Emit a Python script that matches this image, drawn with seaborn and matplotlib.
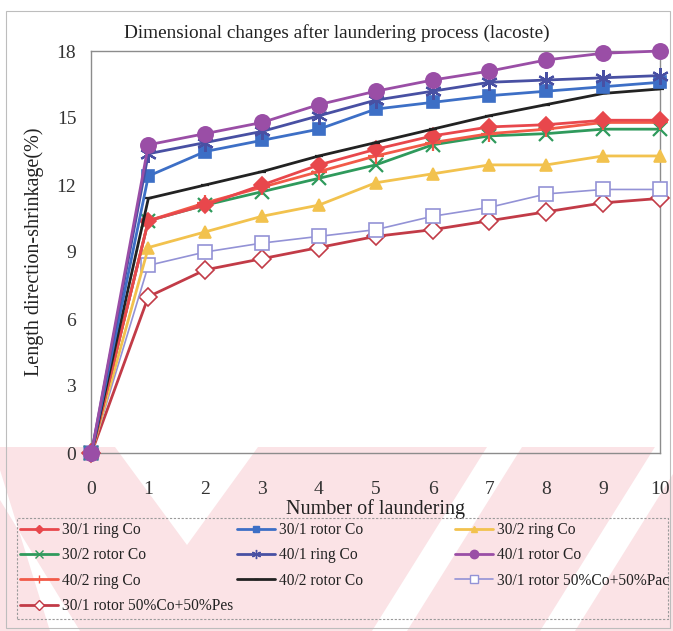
import numpy as np
import pandas as pd
import matplotlib
matplotlib.use("Agg")
import matplotlib.pyplot as plt
from matplotlib.patches import Rectangle, Polygon
from matplotlib.lines import Line2D
import seaborn as sns

# Number of laundering cycles
washes = [0, 1, 2, 3, 4, 5, 6, 7, 8, 9, 10]

# Length direction shrinkage (%) per yarn / fabric type
ring_30_1 = [0, 10.4, 11.1, 12.0, 12.9, 13.6, 14.2, 14.6, 14.7, 14.9, 14.9]
rotor_30_1 = [0, 12.4, 13.5, 14.0, 14.5, 15.4, 15.7, 16.0, 16.2, 16.4, 16.6]
ring_30_2 = [0, 9.2, 9.9, 10.6, 11.1, 12.1, 12.5, 12.9, 12.9, 13.3, 13.3]
rotor_30_2 = [0, 10.4, 11.1, 11.7, 12.3, 12.9, 13.8, 14.2, 14.3, 14.5, 14.5]
ring_40_1 = [0, 13.4, 13.9, 14.4, 15.1, 15.8, 16.2, 16.6, 16.7, 16.8, 16.9]
rotor_40_1 = [0, 13.8, 14.3, 14.8, 15.6, 16.2, 16.7, 17.1, 17.6, 17.9, 18.0]
ring_40_2 = [0, 10.4, 11.2, 11.9, 12.6, 13.3, 13.9, 14.3, 14.5, 14.8, 14.8]
rotor_40_2 = [0, 11.4, 12.0, 12.6, 13.3, 13.9, 14.5, 15.1, 15.6, 16.1, 16.3]
rotor_pac = [0, 8.4, 9.0, 9.4, 9.7, 10.0, 10.6, 11.0, 11.6, 11.8, 11.8]
rotor_pes = [0, 7.0, 8.2, 8.7, 9.2, 9.7, 10.0, 10.4, 10.8, 11.2, 11.4]

series_names = [
    "30/1 ring Co", "30/1 rotor Co", "30/2 ring Co",
    "30/2 rotor Co", "40/1 ring Co", "40/1 rotor Co",
    "40/2 ring Co", "40/2 rotor Co", "30/1 rotor 50%Co+50%Pac",
    "30/1 rotor 50%Co+50%Pes",
]
series_values = [ring_30_1, rotor_30_1, ring_30_2, rotor_30_2, ring_40_1,
                 rotor_40_1, ring_40_2, rotor_40_2, rotor_pac, rotor_pes]

y_ticks = [0, 3, 6, 9, 12, 15, 18]
x_ticks = washes

# drawing style per series: colour, marker, marker size, face, line width
styles = {
    "30/1 ring Co": dict(color="#E8474C", marker="D", ms=8, mfc=None, lw=2.0),
    "30/1 rotor Co": dict(color="#3D6FC6", marker="s", ms=9, mfc=None, lw=2.0),
    "30/2 ring Co": dict(color="#F2C24E", marker="^", ms=9, mfc=None, lw=2.0),
    "30/2 rotor Co": dict(color="#2F9A5C", marker="x", ms=10, mfc=None, lw=2.0),
    "40/1 ring Co": dict(color="#4850A3", marker=(6, 2, 0), ms=12, mfc=None, lw=2.0),
    "40/1 rotor Co": dict(color="#9A4EA6", marker="o", ms=11, mfc=None, lw=2.0),
    "40/2 ring Co": dict(color="#F25A48", marker="+", ms=11, mfc=None, lw=2.0),
    "40/2 rotor Co": dict(color="#222222", marker="_", ms=6, mfc=None, lw=2.0),
    "30/1 rotor 50%Co+50%Pac": dict(color="#9392D6", marker="s", ms=10, mfc="white", lw=1.2),
    "30/1 rotor 50%Co+50%Pes": dict(color="#C23B47", marker="D", ms=9, mfc="white", lw=2.0),
}

frames = [pd.DataFrame({"wash": washes, "shrink": vals, "series": name})
          for name, vals in zip(series_names, series_values)]
data = pd.concat(frames, ignore_index=True)

sns.set_theme(style="white")
plt.rcParams["font.family"] = ["Liberation Serif", "DejaVu Serif"]

fig = plt.figure(figsize=(6.73, 6.31), dpi=100)
W, H = 673, 631

def fx(px):
    return px / W

def fy(py):
    return 1 - py / H

def fig_poly(pts, color, z):
    fig.patches.append(Polygon([(fx(a), fy(b)) for a, b in pts], closed=True,
                               transform=fig.transFigure, facecolor=color,
                               edgecolor="none", zorder=z))

# pale pink band with white diagonal cut-outs across the lower strip
fig_poly([(0, 447), (673, 447), (673, 631), (0, 631)], "#FBE3E6", -3)
fig_poly([(115, 447), (258, 447), (187, 545)], "white", -2)
fig_poly([(372, 631), (407, 631), (522, 447), (487, 447)], "white", -2)
fig_poly([(540, 631), (575, 631), (673, 474), (673, 418)], "white", -2)
fig_poly([(0, 470), (0, 500), (80, 631), (50, 631)], "white", -2)

# outer frame
fig.patches.append(Rectangle((fx(6), fy(628)), fx(664), (628 - 11) / H,
                             transform=fig.transFigure, fill=False,
                             edgecolor="#BDBDBD", lw=0.8, zorder=-1))

ax = fig.add_axes([fx(91.5), fy(453), fx(660 - 91.5), (453 - 51) / H])
ax.set_facecolor("none")
ax.set_zorder(2)

draw_order = ["30/1 rotor 50%Co+50%Pes", "30/1 rotor 50%Co+50%Pac", "30/2 ring Co",
              "30/2 rotor Co", "40/2 ring Co", "30/1 ring Co", "40/2 rotor Co",
              "30/1 rotor Co", "40/1 ring Co", "40/1 rotor Co"]
for i, name in enumerate(draw_order):
    st = styles[name]
    sub = data[data["series"] == name]
    kw = dict(marker=st["marker"], markersize=st["ms"], markeredgecolor=st["color"],
              markeredgewidth=1.6 if st["marker"] in ("x", "+", (6, 2, 0), "_") else 1.2)
    kw["markerfacecolor"] = st["mfc"] if st["mfc"] is not None else st["color"]
    sns.lineplot(data=sub, x="wash", y="shrink", ax=ax, color=st["color"],
                 linewidth=st["lw"], legend=False, clip_on=False, zorder=3 + i, **kw)

ax.set_xlim(0, 10)
ax.set_ylim(0, 18)
ax.set_xticks(x_ticks)
ax.set_yticks(y_ticks)
ax.set_xticklabels([str(v) for v in x_ticks])
ax.set_yticklabels([str(v) for v in y_ticks])
for sp in ax.spines.values():
    sp.set_visible(True)
    sp.set_color("#8C8C8C")
    sp.set_linewidth(1.0)
ax.tick_params(axis="both", which="major", direction="out", length=5, width=0.8,
               color="#8C8C8C", labelsize=14, labelcolor="#333333")
ax.tick_params(axis="x", pad=15)
ax.tick_params(axis="y", pad=6)
ax.grid(False)

ax.set_xlabel("Number of laundering", fontsize=14.5, color="#222222", labelpad=1)
ax.set_ylabel("Length direction-shrinkage(%)", fontsize=14.5, color="#222222", labelpad=9)

fig.text(fx(337), fy(33), "Dimensional changes after laundering process (lacoste)",
         ha="center", va="center", fontsize=13.9, color="#222222")

# legend laid out in three columns, filled row by row
def handle(name):
    st = styles[name]
    return Line2D([0], [0], color=st["color"], lw=st["lw"], marker=st["marker"],
                  markersize=st["ms"] * 0.55, markeredgecolor=st["color"],
                  markerfacecolor=st["mfc"] if st["mfc"] is not None else st["color"],
                  markeredgewidth=1.0)

col_x = [20, 237, 455]
for c in range(3):
    names = series_names[c::3]
    leg = fig.legend([handle(n) for n in names], names, loc="upper left",
                     bbox_to_anchor=(fx(col_x[c]), fy(522)), frameon=False,
                     fontsize=11.2, handlelength=2.45, handletextpad=0.25,
                     labelspacing=0.6, borderpad=0, borderaxespad=0)
    for t in leg.get_texts():
        t.set_color("#222222")

fig.patches.append(Rectangle((fx(17), fy(619)), fx(651), (619 - 518) / H,
                             transform=fig.transFigure, fill=False,
                             edgecolor="#9A9A9A", lw=0.8, linestyle=(0, (2, 1.5)),
                             zorder=2))

fig.savefig("out.png", dpi=100, facecolor="white")
